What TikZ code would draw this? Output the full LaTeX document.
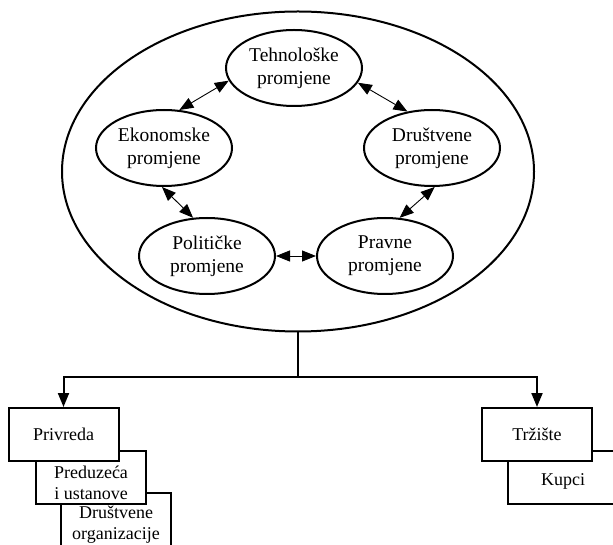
\documentclass[tikz,border=0pt]{standalone}
\usepackage{fontspec}
\setmainfont{Liberation Serif}
\usetikzlibrary{arrows.meta,shapes.geometric}

\begin{document}
\begin{tikzpicture}[x=1pt,y=1pt,>={Triangle[length=14pt,width=11pt]},
  change/.style={ellipse,draw,line width=2pt,minimum width=136pt,
    minimum height=76pt,inner sep=0pt,align=center,
    font=\fontsize{19.5}{23}\selectfont},
  unit/.style={rectangle,draw,fill=white,line width=2pt,minimum width=110pt,
    minimum height=53pt,inner sep=0pt,font=\fontsize{18}{21}\selectfont},
  lbl/.style={align=center,inner sep=0pt,font=\fontsize{18}{21}\selectfont},
  link/.style={<->,line width=0.9pt},
  feed/.style={->,line width=2pt}]

\useasboundingbox (0,0) rectangle (613,544);

\node[ellipse,draw,line width=2pt,minimum width=472pt,minimum height=320pt,
  inner sep=0pt] (env) at (298,372.5) {};

\node[change] (tech) at (294,476) {Tehnološke\\promjene};
\node[change] (ekon) at (164,396) {Ekonomske\\promjene};
\node[change] (drus) at (432,396) {Društvene\\promjene};
\node[change] (polit) at (207,288) {Političke\\promjene};
\node[change] (prav) at (385,288) {Pravne\\promjene};

\draw[link] (ekon.68) -- (tech.191);
\draw[link] (tech.347) -- (drus.124);
\draw[link] (ekon.267) -- (polit.110);
\draw[link] (drus.274) -- (prav.69);
\draw[link] (polit.east) -- (prav.west);

% boxes below, lowest first
\node[unit] (org) at (116,24.5) {};
\node[lbl] (orgT) at ([yshift=-5.5]org.center) {Društvene\\organizacije};
\node[unit] (pred) at (91,67) {};
\node[lbl] (predT) at ([yshift=-6]pred.center) {Preduzeća\\i ustanove};
\node[unit] (priv) at (63.5,109.5) {Privreda};

\node[unit] (kup) at (563,66.5) {};
\node[lbl] (kupT) at ([yshift=-3.5]kup.center) {Kupci};
\node[unit] (trz) at (537,109.5) {Tržište};

\coordinate (split) at (298,167);
\draw[line width=2pt] (env.south) -- (split);
\draw[feed] (split) -| (priv.north);
\draw[feed] (split) -| (trz.north);

\end{tikzpicture}
\end{document}
